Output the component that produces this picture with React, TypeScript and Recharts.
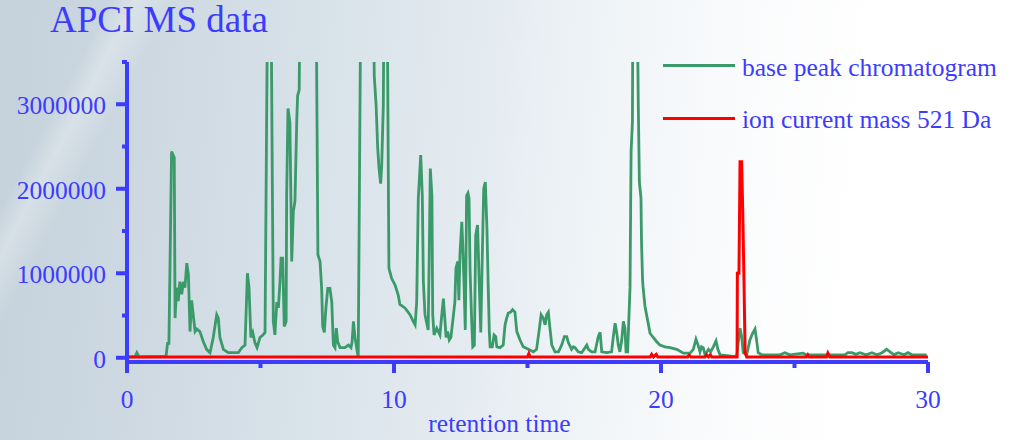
import React from 'react';
import { LineChart, Line, XAxis, YAxis, Legend } from 'recharts';

const BLUE = '#3c3cff';
const GREEN = '#3a9a6a';
const RED = '#ff0000';
const SERIF = "'Liberation Serif', 'Times New Roman', serif";

const titleText = 'APCI MS data';
const xAxisTitle = 'retention time';
const xTicks = [0, 5, 10, 15, 20, 25, 30];
const xLabelTicks = [0, 10, 20, 30];
const yTicks = [0, 500000, 1000000, 1500000, 2000000, 2500000, 3000000, 3500000];
const yLabelTicks = [0, 1000000, 2000000, 3000000];

// [retention time, intensity]
const basePeakChromatogram: [number, number][] = [
  [0, 10000], [0.3, 10000], [0.37, 60000], [0.45, 10000], [1.46, 15000], [1.52, 170000], [1.57, 170000],
  [1.67, 2440000], [1.77, 2370000], [1.8, 470000], [1.86, 830000], [1.92, 670000], [1.98, 900000],
  [2.05, 750000], [2.11, 900000], [2.17, 830000], [2.24, 1120000], [2.3, 980000], [2.36, 310000],
  [2.42, 680000], [2.48, 510000], [2.55, 310000], [2.62, 340000], [2.73, 310000], [2.86, 190000],
  [2.98, 100000], [3.11, 60000], [3.23, 240000], [3.36, 510000], [3.42, 470000], [3.48, 240000],
  [3.61, 100000], [3.79, 60000], [4.17, 60000], [4.3, 120000], [4.42, 150000], [4.51, 1000000],
  [4.57, 830000], [4.64, 240000], [4.71, 300000], [4.79, 180000], [4.87, 120000], [4.98, 240000],
  [5.09, 270000], [5.17, 300000], [5.27, 4500000], [5.39, 4500000], [5.48, 430000], [5.54, 270000],
  [5.61, 660000], [5.67, 590000], [5.73, 900000], [5.77, 1180000], [5.83, 1180000], [5.89, 370000],
  [5.96, 430000], [5.98, 1920000], [6.03, 2950000], [6.1, 2790000], [6.17, 1140000], [6.23, 1730000],
  [6.29, 1850000], [6.36, 2830000], [6.39, 3100000], [6.45, 3170000], [6.48, 4500000], [7.08, 4500000],
  [7.15, 1220000], [7.23, 1140000], [7.29, 820000], [7.33, 370000], [7.39, 300000], [7.45, 590000],
  [7.52, 820000], [7.6, 820000], [7.67, 660000], [7.73, 150000], [7.79, 120000], [7.84, 350000],
  [7.89, 190000], [7.98, 120000], [8.16, 120000], [8.29, 150000], [8.39, 120000], [8.43, 190000],
  [8.48, 430000], [8.54, 240000], [8.6, 120000], [8.66, 0], [8.76, 4500000], [9.22, 4500000],
  [9.26, 3340000], [9.33, 2990000], [9.39, 2480000], [9.44, 2240000], [9.5, 2060000], [9.54, 2280000],
  [9.6, 2990000], [9.63, 4500000], [9.74, 4500000], [9.81, 1060000], [9.91, 940000], [10.04, 860000],
  [10.16, 740000], [10.22, 630000], [10.41, 590000], [10.6, 510000], [10.72, 430000], [10.79, 390000],
  [10.85, 660000], [10.91, 1890000], [11.0, 2400000], [11.06, 1920000], [11.1, 900000], [11.16, 510000],
  [11.28, 330000], [11.32, 1220000], [11.36, 2240000], [11.42, 1920000], [11.45, 510000], [11.5, 270000],
  [11.6, 350000], [11.72, 270000], [11.79, 510000], [11.85, 700000], [11.91, 430000], [11.95, 240000],
  [12.01, 310000], [12.07, 210000], [12.13, 240000], [12.2, 430000], [12.28, 660000], [12.32, 1060000],
  [12.39, 1140000], [12.43, 680000], [12.47, 1220000], [12.54, 1610000], [12.57, 1370000], [12.62, 900000],
  [12.67, 330000], [12.72, 1920000], [12.77, 1950000], [12.81, 1890000], [12.85, 1020000], [12.91, 430000],
  [12.95, 130000], [13.01, 150000], [13.06, 1450000], [13.13, 1570000], [13.19, 900000], [13.25, 300000],
  [13.31, 1250000], [13.36, 2000000], [13.42, 2080000], [13.48, 1540000], [13.53, 830000], [13.57, 310000],
  [13.6, 130000], [13.68, 130000], [13.75, 270000], [13.81, 250000], [13.85, 130000], [13.97, 120000],
  [14.09, 150000], [14.16, 390000], [14.22, 470000], [14.28, 530000], [14.37, 540000], [14.44, 570000],
  [14.53, 540000], [14.6, 310000], [14.72, 210000], [14.84, 130000], [15.03, 100000], [15.22, 70000],
  [15.34, 100000], [15.43, 310000], [15.51, 510000], [15.59, 470000], [15.66, 390000], [15.72, 510000],
  [15.78, 540000], [15.84, 350000], [15.91, 150000], [16.03, 70000], [16.16, 70000], [16.28, 150000],
  [16.38, 250000], [16.47, 250000], [16.53, 180000], [16.65, 100000], [16.72, 130000], [16.78, 120000],
  [16.9, 70000], [17.03, 60000], [17.22, 150000], [17.28, 100000], [17.4, 70000], [17.53, 70000],
  [17.65, 250000], [17.72, 300000], [17.78, 70000], [17.97, 60000], [18.15, 70000], [18.21, 240000],
  [18.28, 410000], [18.34, 300000], [18.4, 150000], [18.46, 70000], [18.53, 210000], [18.59, 430000],
  [18.65, 350000], [18.69, 70000], [18.75, 70000], [18.84, 830000], [18.88, 2440000], [18.93, 2790000],
  [18.95, 4500000], [19.1, 4500000], [19.15, 2990000], [19.19, 2080000], [19.25, 1890000], [19.27, 1370000],
  [19.31, 920000], [19.33, 830000], [19.4, 610000], [19.46, 510000], [19.52, 410000], [19.59, 290000],
  [19.71, 240000], [19.84, 190000], [19.96, 150000], [20.15, 130000], [20.34, 120000], [20.59, 100000],
  [20.84, 55000], [21.09, 55000], [21.21, 100000], [21.31, 220000], [21.39, 150000], [21.46, 70000],
  [21.52, 130000], [21.58, 120000], [21.65, 35000], [21.78, 100000], [21.86, 70000], [21.96, 130000],
  [22.06, 200000], [22.13, 100000], [22.21, 35000], [22.46, 25000], [22.71, 15000], [22.84, 25000],
  [22.88, 150000], [22.96, 350000], [23.02, 250000], [23.08, 60000], [23.21, 35000], [23.33, 210000],
  [23.43, 290000], [23.52, 340000], [23.58, 210000], [23.64, 60000], [23.77, 35000], [24.08, 35000],
  [24.46, 35000], [24.64, 60000], [24.83, 35000], [25.32, 55000], [25.43, 35000], [25.96, 35000],
  [26.89, 35000], [27.0, 60000], [27.15, 60000], [27.3, 40000], [27.45, 60000], [27.68, 35000],
  [27.9, 60000], [28.09, 35000], [28.28, 60000], [28.45, 100000], [28.58, 70000], [28.73, 35000],
  [28.88, 60000], [29.1, 35000], [29.25, 60000], [29.4, 35000], [29.95, 35000],
];

const ionCurrent521: [number, number][] = [
  [0, 10000], [15.0, 10000], [15.05, 50000], [15.1, 10000], [19.6, 10000], [19.65, 40000], [19.72, 10000],
  [19.82, 40000], [19.88, 10000], [21.0, 10000], [21.05, 30000], [21.12, 10000], [21.65, 10000],
  [21.7, 35000], [21.78, 10000], [21.85, 35000], [21.9, 10000], [22.85, 10000], [22.86, 1000000],
  [22.92, 1000000], [22.96, 2320000], [23.02, 2320000], [23.06, 1750000], [23.11, 880000], [23.15, 60000],
  [23.21, 10000], [25.45, 10000], [25.5, 35000], [25.55, 10000], [26.2, 10000], [26.25, 55000],
  [26.32, 10000], [30, 10000],
];

const toRows = (pts: [number, number][]) => pts.map(([t, v]) => ({ t, v }));
const baseRows = toRows(basePeakChromatogram);
const ionRows = toRows(ionCurrent521);

const YTick = (props: any) => {
  const { x, y, payload } = props;
  const v = payload.value;
  const major = yLabelTicks.includes(v);
  return (
    <g>
      <line x1={x - (major ? 11 : 5)} x2={x} y1={y} y2={y} stroke={BLUE} strokeWidth={4} />
      {major && (
        <text x={x - 21} y={y + 10} textAnchor="end" fill={BLUE} fontSize={25.5} fontFamily={SERIF}>
          {v}
        </text>
      )}
    </g>
  );
};

const XTick = (props: any) => {
  const { x, y, payload } = props;
  const v = payload.value;
  const major = xLabelTicks.includes(v);
  return (
    <g>
      <line x1={x} x2={x} y1={y} y2={y + (major ? 11 : 6)} stroke={BLUE} strokeWidth={4} />
      {major && (
        <text x={x} y={y + 46} textAnchor="middle" fill={BLUE} fontSize={25.5} fontFamily={SERIF}>
          {v}
        </text>
      )}
    </g>
  );
};

const renderLegend = (props: any) => {
  const { payload } = props;
  return (
    <div style={{ position: 'relative', width: 345, height: 100 }}>
      {(payload || []).map((entry: any, i: number) => (
        <React.Fragment key={entry.value}>
          <div
            style={{
              position: 'absolute',
              left: 0,
              top: 13.5 + i * 53,
              width: 72,
              height: 3,
              background: entry.color,
            }}
          />
          <span
            style={{
              position: 'absolute',
              left: 79,
              top: 4.6 + i * 52,
              fontSize: 25.5,
              lineHeight: 1,
              fontFamily: SERIF,
              color: BLUE,
              whiteSpace: 'nowrap',
            }}
          >
            {entry.value}
          </span>
        </React.Fragment>
      ))}
    </div>
  );
};

export default function App() {
  return (
    <div
      style={{
        position: 'absolute',
        left: 0,
        top: 0,
        width: 1010,
        height: 440,
        overflow: 'hidden',
        background:
          'linear-gradient(118deg, rgba(255,255,255,0) 0%, rgba(255,255,255,0) 9%, rgba(255,255,255,0.28) 11%, rgba(255,255,255,0) 14%, rgba(255,255,255,0) 100%), linear-gradient(95deg, #c5d2db 0%, #cfdae3 18%, #d9e3ea 33%, #e5ecf1 48%, #f1f5f8 60%, #fafbfc 72%, #ffffff 84%)',
      }}
    >
      <div
        style={{
          position: 'absolute',
          left: 50,
          top: 1,
          fontSize: 37,
          lineHeight: 1,
          fontFamily: SERIF,
          color: BLUE,
          whiteSpace: 'nowrap',
        }}
      >
        {titleText}
      </div>
      <LineChart width={1010} height={440} margin={{ top: 62, right: 82, bottom: 0, left: 0 }}>
        <XAxis
          type="number"
          dataKey="t"
          domain={[0, 30]}
          ticks={xTicks}
          interval={0}
          height={78}
          axisLine={{ stroke: BLUE, strokeWidth: 4 }}
          tickLine={false}
          tickSize={0}
          tickMargin={0}
          tick={<XTick />}
          label={{
            value: xAxisTitle,
            position: 'insideBottom',
            offset: 8,
            dx: -28,
            fill: BLUE,
            fontSize: 25.5,
            fontFamily: SERIF,
          }}
        />
        <YAxis
          type="number"
          domain={[-50000, 3500000]}
          allowDataOverflow
          ticks={yTicks}
          interval={0}
          width={127}
          axisLine={{ stroke: BLUE, strokeWidth: 4 }}
          tickLine={false}
          tickSize={0}
          tickMargin={0}
          tick={<YTick />}
        />
        <Legend
          layout="vertical"
          align="center"
          verticalAlign="middle"
          content={renderLegend}
          wrapperStyle={{ left: 663, top: 50, width: 345, height: 100 }}
        />
        <Line
          data={baseRows}
          dataKey="v"
          name="base peak chromatogram"
          type="linear"
          stroke={GREEN}
          strokeWidth={2.8}
          dot={false}
          activeDot={false}
          isAnimationActive={false}
        />
        <Line
          data={ionRows}
          dataKey="v"
          name="ion current mass 521 Da"
          type="linear"
          stroke={RED}
          strokeWidth={3}
          dot={false}
          activeDot={false}
          isAnimationActive={false}
        />
      </LineChart>
    </div>
  );
}
